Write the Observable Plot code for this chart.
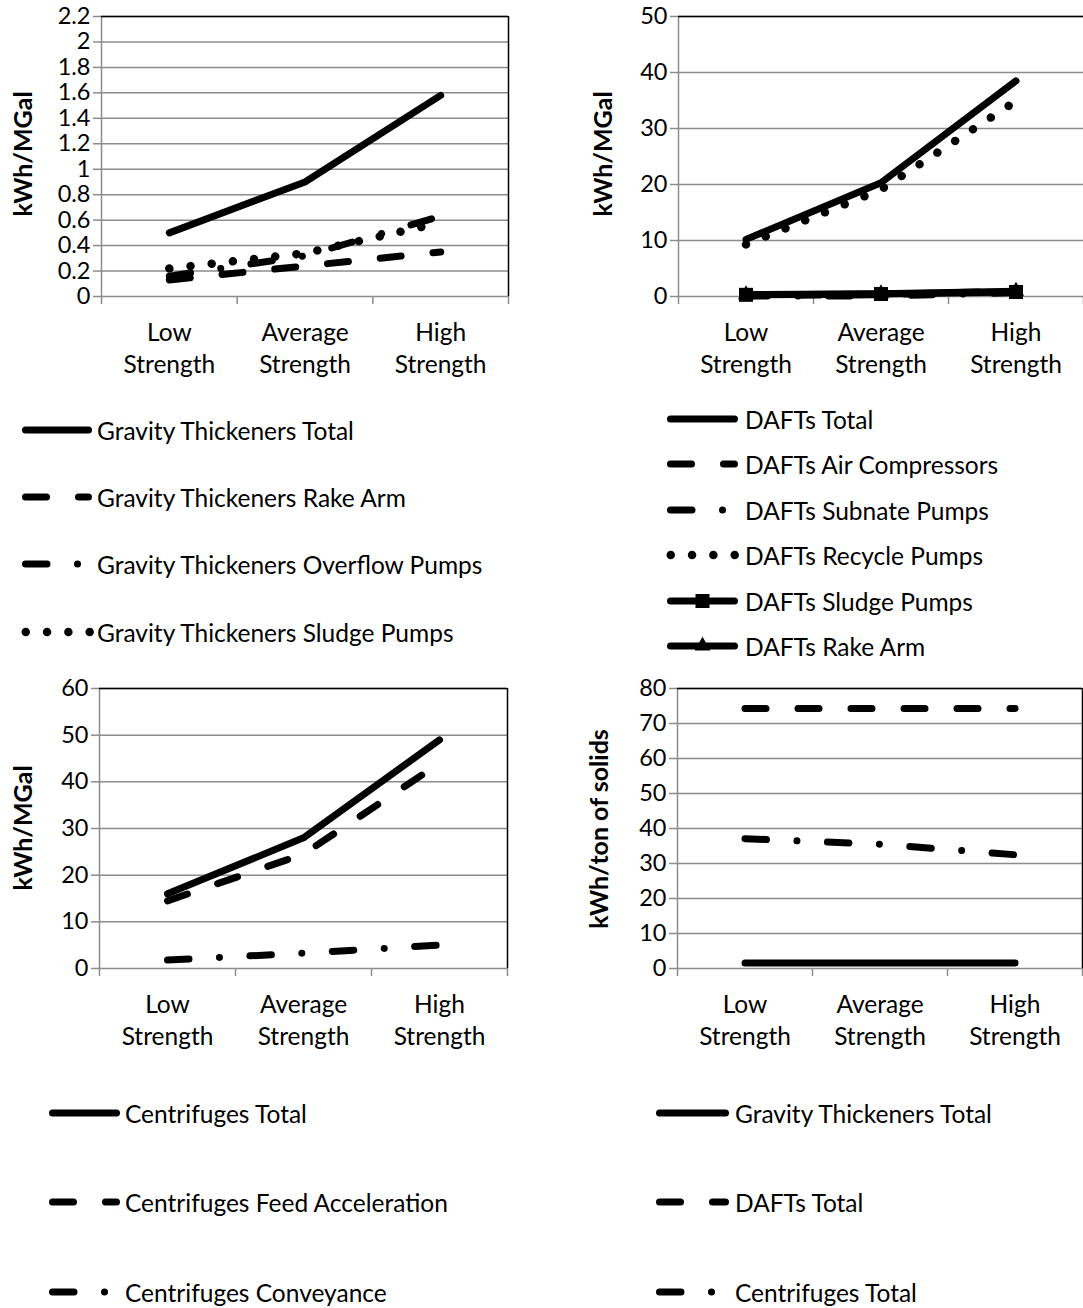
<!DOCTYPE html>
<html><head><meta charset="utf-8">
<script src="https://cdn.jsdelivr.net/npm/d3@7"></script>
<script src="https://cdn.jsdelivr.net/npm/@observablehq/plot@0.6"></script>
<style>
body{margin:0;background:#fff;}
#page{position:relative;width:1083px;height:1308px;overflow:hidden;font-family:Lato,sans-serif;color:#000;}
.panel{position:absolute;}
.ytitle{position:absolute;font-weight:bold;font-size:25px;transform:translate(-50%,-50%) rotate(-90deg);white-space:nowrap;line-height:1;}
#legend{position:absolute;left:0;top:0;pointer-events:none;}
</style></head>
<body><div id="page"></div>
<script>
// ---------- data ----------
const categories = ["Low\nStrength", "Average\nStrength", "High\nStrength"];

// Panel 1: Gravity thickeners (kWh/MGal)
const gtNames = ["Gravity Thickeners Total", "Gravity Thickeners Rake Arm", "Gravity Thickeners Overflow Pumps", "Gravity Thickeners Sludge Pumps"];
const gtTotal = [0.5, 0.9, 1.58];
const gtRakeArm = [0.13, 0.24, 0.35];
const gtOverflowPumps = [0.16, 0.32, 0.63];
const gtSludgePumps = [0.22, 0.34, 0.58];
const gtTicks = [0, 0.2, 0.4, 0.6, 0.8, 1, 1.2, 1.4, 1.6, 1.8, 2, 2.2];

// Panel 2: DAFTs (kWh/MGal)
const daftNames = ["DAFTs Total", "DAFTs Air Compressors", "DAFTs Subnate Pumps", "DAFTs Recycle Pumps", "DAFTs Sludge Pumps", "DAFTs Rake Arm"];
const daftTotal = [10.2, 20.3, 38.5];
const daftAirCompressors = [0.2, 0.3, 1.0];
const daftSubnatePumps = [0.1, 0.1, 0.7];
const daftRecyclePumps = [9.3, 19.1, 34.9];
const daftSludgePumps = [0.3, 0.45, 0.8];
const daftRakeArm = [0.35, 0.5, 0.95];
const daftTicks = [0, 10, 20, 30, 40, 50];

// Panel 3: Centrifuges (kWh/MGal)
const cfNames = ["Centrifuges Total", "Centrifuges Feed Acceleration", "Centrifuges Conveyance"];
const cfTotal = [16, 28, 49];
const cfFeedAcceleration = [14.5, 24.5, 44];
const cfConveyance = [1.8, 3.3, 5.0];
const cfTicks = [0, 10, 20, 30, 40, 50, 60];

// Panel 4: Totals (kWh/ton of solids)
const totNames = ["Gravity Thickeners Total", "DAFTs Total", "Centrifuges Total"];
const totGravity = [1.6, 1.6, 1.6];
const totDafts = [74.3, 74.3, 74.3];
const totCentrifuges = [37.1, 35.5, 32.5];
const totTicks = [0, 10, 20, 30, 40, 50, 60, 70, 80];

// ---------- styles ----------
const W = 7;
const WDOT = 8.5;
const GRID = "#8c8c8c";
const DASH = {
  solid: null,
  dash: "21,32",
  dashdot: "21.5,30.5,0.01,30.5",
  dot: "0.01,21.3",
  square: null,
  triangle: null
};
const FONT = "Lato, sans-serif";

const page = document.getElementById("page");

function panel(cfg) {
  const {left, top, width, height, ml, mr, mt, mb, ticks, series, title, titleX, titleY, rightBorder} = cfg;
  const yMax = ticks[ticks.length - 1];
  const frameW = width - ml - mr, frameH = height - mt - mb;
  const rows = series.flatMap((s, k) => s.values.map((v, i) => ({name: s.name, style: s.style, k, i, v})));
  const marks = [
    Plot.ruleY(ticks, {stroke: GRID, strokeWidth: 1.5}),
    Plot.ruleY(ticks, {stroke: GRID, strokeWidth: 1.5, insetLeft: -8, insetRight: frameW}),
    Plot.ruleX([-0.5], {stroke: GRID, strokeWidth: 1.5, insetBottom: -8}),
    Plot.ruleX([0.5, 1.5, 2.5], {stroke: GRID, strokeWidth: 1.5, insetTop: frameH, insetBottom: -8}),
    Plot.ruleY([yMax], {stroke: "black", strokeWidth: 1.5}),
  ];
  if (rightBorder) marks.push(Plot.ruleX([2.5], {stroke: "black", strokeWidth: 1.5}));
  marks.push(Plot.axisY({ticks, tickSize: 0, tickPadding: 11, tickFormat: d => String(d), fontSize: 23.5, label: null}));
  marks.push(Plot.text(categories.map((c, i) => ({c, i})), {
    x: "i", y: () => 0, text: "c", dy: 50, lineAnchor: "middle", lineHeight: 1.31, fontSize: 24.5, textAnchor: "middle"
  }));
  for (const s of series) {
    const data = rows.filter(r => r.name === s.name);
    marks.push(Plot.line(data, {
      x: "i", y: "v", stroke: "black", strokeWidth: s.style === "dot" ? WDOT : W,
      strokeDasharray: DASH[s.style], strokeLinecap: "round", strokeLinejoin: "round"
    }));
    if (s.style === "square") marks.push(Plot.dot(data, {x: "i", y: "v", symbol: "square", r: 7.9, fill: "black", stroke: null}));
    if (s.style === "triangle") marks.push(Plot.dot(data, {x: "i", y: "v", symbol: "triangle", r: 6, fill: "black", stroke: null}));
  }
  const svg = Plot.plot({
    width, height, marginLeft: ml, marginRight: mr, marginTop: mt, marginBottom: mb,
    x: {type: "linear", domain: [-0.5, 2.5], axis: null},
    y: {domain: [0, yMax], axis: null},
    style: {fontFamily: FONT, fontSize: "23.5px", color: "black", background: "transparent", overflow: "visible"},
    marks
  });
  const div = document.createElement("div");
  div.className = "panel";
  div.style.left = left + "px";
  div.style.top = top + "px";
  div.appendChild(svg);
  page.appendChild(div);
  const t = document.createElement("div");
  t.className = "ytitle";
  t.textContent = title;
  t.style.left = titleX + "px";
  t.style.top = titleY + "px";
  page.appendChild(t);
}

panel({
  left: 0, top: 0, width: 540, height: 390, ml: 101, mr: 32, mt: 16, mb: 94,
  ticks: gtTicks, title: "kWh/MGal", titleX: 22, titleY: 154, rightBorder: true,
  series: [
    {name: gtNames[0], values: gtTotal, style: "solid"},
    {name: gtNames[1], values: gtRakeArm, style: "dash"},
    {name: gtNames[2], values: gtOverflowPumps, style: "dashdot"},
    {name: gtNames[3], values: gtSludgePumps, style: "dot"}
  ]
});
panel({
  left: 540, top: 0, width: 543, height: 390, ml: 138, mr: 0, mt: 16, mb: 94,
  ticks: daftTicks, title: "kWh/MGal", titleX: 602, titleY: 154, rightBorder: false,
  series: [
    {name: daftNames[0], values: daftTotal, style: "solid"},
    {name: daftNames[1], values: daftAirCompressors, style: "dash"},
    {name: daftNames[2], values: daftSubnatePumps, style: "dashdot"},
    {name: daftNames[3], values: daftRecyclePumps, style: "dot"},
    {name: daftNames[4], values: daftSludgePumps, style: "square"},
    {name: daftNames[5], values: daftRakeArm, style: "triangle"}
  ]
});
panel({
  left: 0, top: 672, width: 540, height: 390, ml: 99, mr: 33, mt: 16, mb: 94,
  ticks: cfTicks, title: "kWh/MGal", titleX: 22, titleY: 828, rightBorder: true,
  series: [
    {name: cfNames[0], values: cfTotal, style: "solid"},
    {name: cfNames[1], values: cfFeedAcceleration, style: "dash"},
    {name: cfNames[2], values: cfConveyance, style: "dashdot"}
  ]
});
panel({
  left: 540, top: 672, width: 543, height: 390, ml: 137, mr: 1, mt: 16, mb: 94,
  ticks: totTicks, title: "kWh/ton of solids", titleX: 598, titleY: 829, rightBorder: true,
  series: [
    {name: totNames[0], values: totGravity, style: "solid"},
    {name: totNames[1], values: totDafts, style: "dash"},
    {name: totNames[2], values: totCentrifuges, style: "dashdot"}
  ]
});

// ---------- legends ----------
const legends = [
  {names: gtNames, styles: ["solid", "dash", "dashdot", "dot"], rows: [430, 497, 564, 632], x0: 22, x1: 92, tx: 97},
  {names: daftNames, styles: ["solid", "dash", "dashdot", "dot", "square", "triangle"], rows: [419, 464, 510, 555, 601, 646], x0: 667, x1: 738, tx: 745},
  {names: cfNames, styles: ["solid", "dash", "dashdot"], rows: [1113, 1202, 1292], x0: 49, x1: 120, tx: 125},
  {names: totNames, styles: ["solid", "dash", "dashdot"], rows: [1113, 1202, 1292], x0: 656, x1: 729, tx: 735}
];
const lsvg = d3.select(page).append("svg").attr("id", "legend").attr("width", 1083).attr("height", 1308);
for (const L of legends) {
  L.names.forEach((name, k) => {
    const st = L.styles[k], y = L.rows[k];
    const sw = st === "dot" ? WDOT : W;
    const a = st === "dot" ? L.x0 + sw / 2 - 0.5 : L.x0 + sw / 2;
    const b = st === "dot" ? a + 3 * 21.3 + 0.1 : L.x1 - sw / 2;
    lsvg.append("line")
      .attr("x1", a).attr("x2", b).attr("y1", y).attr("y2", y)
      .attr("stroke", "black").attr("stroke-width", sw).attr("stroke-linecap", "round")
      .attr("stroke-dasharray", DASH[st]);
    const cx = (L.x0 + L.x1) / 2;
    if (st === "square") lsvg.append("path").attr("transform", `translate(${cx},${y})`).attr("d", d3.symbol(d3.symbolSquare, 196)()).attr("fill", "black");
    if (st === "triangle") lsvg.append("path").attr("transform", `translate(${cx},${y})`).attr("d", d3.symbol(d3.symbolTriangle, 110)()).attr("fill", "black");
    lsvg.append("text").attr("x", L.tx).attr("y", y).attr("dominant-baseline", "central")
      .attr("font-family", FONT).attr("font-size", 24.5).attr("fill", "black").text(name);
  });
}
</script>
</body></html>
